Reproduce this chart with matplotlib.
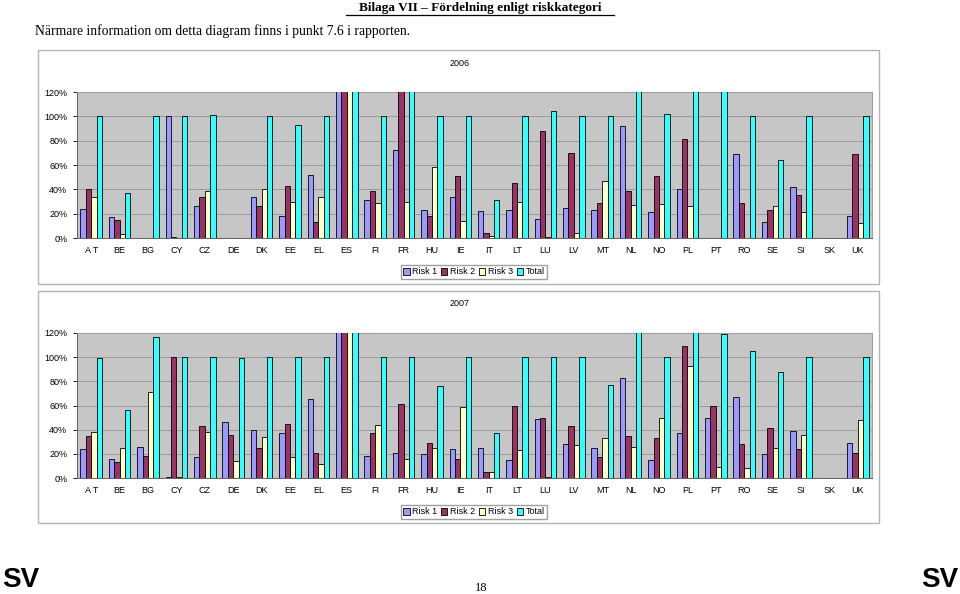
import numpy as np
import matplotlib.pyplot as plt
from matplotlib.patches import Rectangle, Patch
from matplotlib.lines import Line2D

countries = ['A T', 'BE', 'BG', 'CY', 'CZ', 'DE', 'DK', 'EE', 'EL', 'ES', 'FI', 'FR', 'HU', 'IE',
             'IT', 'LT', 'LU', 'LV', 'MT', 'NL', 'NO', 'PL', 'PT', 'RO', 'SE', 'SI', 'SK', 'UK']
series_names = ['Risk 1', 'Risk 2', 'Risk 3', 'Total']

# 2006 (values in %, anything above 120 is cut off in the chart)
risk1_2006 = [24, 17, 0, 100, 26, 0, 34, 18, 52, 150, 31, 72, 23, 34,
              22, 23, 16, 25, 23, 92, 21, 40, 0, 69, 13, 42, 0, 18]
risk2_2006 = [40, 15, 0, 0.8, 34, 0, 26, 43, 13, 150, 39, 130, 18, 51,
              4, 45, 88, 70, 29, 39, 51, 81, 0, 29, 23, 35, 0, 69]
risk3_2006 = [34, 3, 0, 0, 39, 0, 40, 30, 34, 140, 29, 30, 58, 14,
              2, 30, 0.5, 4, 47, 27, 28, 26, 0, 0, 26, 21, 0, 12]
total_2006 = [100, 37, 100, 100, 101, 0, 100, 93, 100, 160, 100, 140, 100, 100,
              31, 100, 104, 100, 100, 140, 102, 140, 140, 100, 64, 100, 0, 100]

# 2007
risk1_2007 = [24, 16, 26, 0.8, 17, 46, 40, 37, 65, 150, 18, 21, 20, 24,
              25, 15, 49, 28, 25, 83, 15, 37, 50, 67, 20, 39, 0, 29]
risk2_2007 = [35, 13, 18, 100, 43, 36, 25, 45, 21, 150, 37, 61, 29, 16,
              5, 60, 50, 43, 17, 35, 33, 109, 60, 28, 41, 24, 0, 21]
risk3_2007 = [38, 25, 71, 0.5, 38, 14, 34, 17, 12, 140, 44, 16, 25, 59,
              5, 23, 0.5, 27, 33, 26, 50, 93, 9, 8, 25, 36, 0, 48]
total_2007 = [99, 56, 117, 100, 100, 99, 100, 100, 100, 160, 100, 100, 76, 100,
              37, 100, 100, 100, 77, 140, 100, 140, 119, 105, 88, 100, 0, 100]

colors = ['#9999FF', '#993366', '#FFFFCC', '#33FFFF']
W, H = 960, 594

fig = plt.figure(figsize=(9.6, 5.94), dpi=100)
plt.rcParams['font.family'] = ['Liberation Sans', 'DejaVu Sans']


def fx(px):
    return px / W


def fy(py):
    return 1 - py / H


def draw_chart(top, bottom, data, title, title_y, legend_y, frame):
    # outer frame
    fig.patches.append(Rectangle((fx(frame[0]), fy(frame[3])), fx(frame[2] - frame[0]),
                                 (frame[3] - frame[1]) / H, transform=fig.transFigure,
                                 fill=False, edgecolor='#b4b4b4', lw=1))
    ax = fig.add_axes([fx(77), fy(bottom), fx(872 - 77), (bottom - top) / H])
    ax.set_facecolor('#c6c6c6')
    x = np.arange(len(countries))
    w = 0.19
    for k, vals in enumerate(data):
        ax.bar(x + (k - 1.5) * w, vals, w, color=colors[k], edgecolor='black', lw=0.6, zorder=3)
    ax.set_ylim(0, 120)
    ax.set_xlim(-0.5, len(countries) - 0.5)
    ax.set_yticks(np.arange(0, 121, 20))
    ax.set_yticklabels(['%d%%' % v for v in range(0, 121, 20)], fontsize=6.5)
    ax.set_xticks(x)
    ax.set_xticklabels(countries, fontsize=6.5)
    ax.tick_params(axis='x', length=0, pad=6)
    ax.tick_params(axis='y', length=3, width=0.6, pad=4)
    ax.grid(axis='y', color='#9a9a9a', lw=0.7, zorder=0)
    for s in ['top', 'right']:
        ax.spines[s].set_color('#a0a0a0')
    for s in ['left', 'bottom']:
        ax.spines[s].set_color('#606060')
        ax.spines[s].set_linewidth(0.7)
    fig.text(fx(460), fy(title_y), title, fontsize=6.5, ha='center', va='center')
    handles = [Patch(facecolor=c, edgecolor='black', lw=0.6) for c in colors]
    fig.legend(handles, series_names, loc='center', bbox_to_anchor=(fx(474), fy(legend_y)),
               ncol=4, fontsize=6.5, handlelength=0.7, handleheight=0.7, handletextpad=0.3,
               columnspacing=0.4, fancybox=False, edgecolor='#a0a0a0', borderpad=0.3,
               framealpha=1)
    return ax


draw_chart(92, 238, [risk1_2006, risk2_2006, risk3_2006, total_2006], '2006', 63, 272,
           (38, 50, 879, 284))
draw_chart(333, 478, [risk1_2007, risk2_2007, risk3_2007, total_2007], '2007', 303, 512,
           (38, 291, 879, 523))

# page texts
fig.text(fx(480), fy(8), 'Bilaga VII \u2013 Fördelning enligt riskkategori', family='Liberation Serif',
         fontsize=9.5, fontweight='bold', ha='center', va='center')
fig.add_artist(Line2D([fx(346), fx(614)], [fy(15), fy(15)], color='black', lw=0.9))
fig.text(fx(35), fy(31), 'Närmare information om detta diagram finns i punkt 7.6 i rapporten.',
         family='Liberation Serif', fontsize=9.8, ha='left', va='center')
fig.text(fx(2), fy(587), 'SV', fontsize=20, fontweight='bold', ha='left', va='baseline')
fig.text(fx(958), fy(587), 'SV', fontsize=20, fontweight='bold', ha='right', va='baseline')
fig.text(fx(481), fy(588), '18', family='Liberation Serif', fontsize=9, ha='center', va='center')

fig.savefig('out.png', dpi=100)
